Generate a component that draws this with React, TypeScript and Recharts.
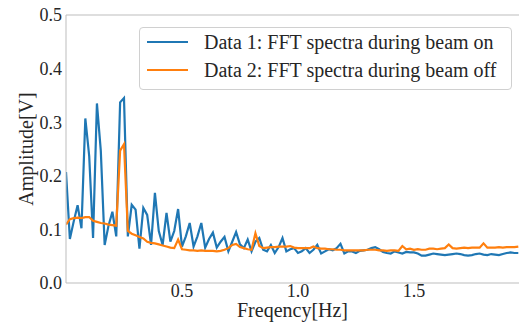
import { LineChart, Line, XAxis, YAxis, ReferenceLine, Legend } from "recharts";

const SERIF = '"Liberation Serif", "Times New Roman", Times, serif';
const ON_COLOR = "#1f77b4";
const OFF_COLOR = "#ff7f0e";
const SPINE = "#bdbdbd";
const INK = "#262626";

// FFT bin width of the spectra (Hz)
const FREQ_STEP = 1 / 60;

const BEAM_ON = [
  0.207, 0.082, 0.115, 0.145, 0.102, 0.307, 0.237, 0.084, 0.335, 0.247,
  0.071, 0.107, 0.133, 0.087, 0.337, 0.345, 0.087, 0.146, 0.137, 0.064,
  0.14, 0.127, 0.071, 0.168, 0.097, 0.071, 0.131, 0.077, 0.097, 0.138,
  0.068, 0.087, 0.112, 0.068, 0.087, 0.112, 0.066, 0.082, 0.094, 0.066,
  0.077, 0.086, 0.059, 0.077, 0.095, 0.072, 0.065, 0.081, 0.059, 0.077,
  0.084, 0.062, 0.059, 0.071, 0.056, 0.067, 0.084, 0.059, 0.063, 0.065,
  0.056, 0.059, 0.065, 0.056, 0.062, 0.071, 0.055, 0.059, 0.063, 0.061,
  0.065, 0.073, 0.055, 0.059, 0.059, 0.056, 0.06, 0.061, 0.062, 0.065,
  0.067, 0.063, 0.058, 0.056, 0.055, 0.059, 0.057, 0.055, 0.058, 0.057,
  0.057, 0.055, 0.051, 0.051, 0.053, 0.055, 0.054, 0.053, 0.052, 0.053,
  0.054, 0.055, 0.054, 0.052, 0.051, 0.052, 0.054, 0.055, 0.053, 0.052,
  0.054, 0.053, 0.052, 0.054, 0.056, 0.057, 0.056, 0.056,
];

const BEAM_OFF = [
  0.109, 0.119, 0.121, 0.122, 0.121, 0.123, 0.123, 0.116, 0.114, 0.112,
  0.111, 0.109, 0.108, 0.107, 0.247, 0.259, 0.097, 0.092, 0.089, 0.086,
  0.083, 0.077, 0.075, 0.074, 0.072, 0.07, 0.068, 0.066, 0.065, 0.081,
  0.063, 0.062, 0.061, 0.061, 0.06, 0.061, 0.06, 0.06, 0.06, 0.059,
  0.06, 0.062, 0.065, 0.071, 0.073, 0.067, 0.065, 0.063, 0.062, 0.093,
  0.069, 0.065, 0.066, 0.067, 0.067, 0.068, 0.068, 0.068, 0.069, 0.066,
  0.065, 0.065, 0.065, 0.065, 0.068, 0.065, 0.064, 0.064, 0.063, 0.063,
  0.062, 0.062, 0.061, 0.061, 0.061, 0.061, 0.061, 0.061, 0.062, 0.062,
  0.062, 0.061, 0.061, 0.06, 0.061, 0.061, 0.06, 0.069, 0.063, 0.064,
  0.062, 0.063, 0.062, 0.062, 0.064, 0.064, 0.063, 0.064, 0.065, 0.072,
  0.065, 0.064, 0.065, 0.066, 0.065, 0.066, 0.066, 0.066, 0.074, 0.066,
  0.066, 0.066, 0.067, 0.066, 0.067, 0.067, 0.067, 0.068,
];

const X_TICKS = [0.5, 1.0, 1.5];
const Y_TICKS = [0, 0.1, 0.2, 0.3, 0.4, 0.5];

const data = BEAM_ON.map((on, i) => ({
  freq: i * FREQ_STEP,
  on,
  off: BEAM_OFF[i],
}));

const TICK = { fontSize: 18, fontFamily: SERIF, fill: INK, style: { fontFamily: SERIF } };

function XTitle({ viewBox }: any) {
  return (
    <text
      x={viewBox.x + viewBox.width / 2}
      y={317}
      textAnchor="middle"
      fontSize={20}
      style={{ fontFamily: SERIF }}
      fill={INK}
    >
      Freqency[Hz]
    </text>
  );
}

function YTitle({ viewBox }: any) {
  const cy = viewBox.y + viewBox.height / 2;
  return (
    <text
      x={26}
      y={cy}
      transform={`rotate(-90 26 ${cy})`}
      textAnchor="middle"
      dominantBaseline="central"
      fontSize={20}
      style={{ fontFamily: SERIF }}
      fill={INK}
    >
      Amplitude[V]
    </text>
  );
}

function LegendBox({ payload }: any) {
  return (
    <div
      style={{
        width: 373,
        height: 63,
        boxSizing: "border-box",
        border: "1px solid #d0d0d0",
        borderRadius: 4,
        background: "rgba(255,255,255,0.8)",
        paddingLeft: 7,
        fontFamily: SERIF,
        fontSize: 20,
        color: INK,
      }}
    >
      {(payload || []).map((p: any) => (
        <div
          key={p.value}
          style={{ height: 28, display: "flex", alignItems: "center" }}
        >
          <span
            style={{
              display: "inline-block",
              width: 41,
              height: 2.4,
              background: p.color,
              marginRight: 16,
            }}
          />
          <span style={{ whiteSpace: "nowrap", fontFamily: SERIF }}>{p.value}</span>
        </div>
      ))}
    </div>
  );
}

export default function App() {
  return (
    <div
      style={{
        position: "absolute",
        left: 0,
        top: 0,
        width: 519,
        height: 325,
        overflow: "hidden",
        background: "#fff",
        fontFamily: SERIF,
      }}
    >
      <LineChart
        width={519}
        height={325}
        data={data}
        margin={{ top: 15, right: 0, bottom: 0, left: 0 }}
        style={{ fontFamily: SERIF }}
      >
        <XAxis
          type="number"
          dataKey="freq"
          domain={[0, 1.953]}
          allowDataOverflow
          ticks={X_TICKS}
          tickFormatter={(v: number) => v.toFixed(1)}
          tick={TICK}
          tickLine={false}
          tickSize={0}
          tickMargin={1}
          height={42}
          stroke={SPINE}
          label={<XTitle />}
        />
        <YAxis
          type="number"
          domain={[0, 0.5]}
          ticks={Y_TICKS}
          tickFormatter={(v: number) => v.toFixed(1)}
          tick={TICK}
          tickLine={false}
          tickSize={0}
          tickMargin={4}
          width={66}
          stroke={SPINE}
          label={<YTitle />}
        />
        <ReferenceLine y={0.5} stroke={SPINE} />
        <Legend
          layout="vertical"
          align="center"
          verticalAlign="middle"
          wrapperStyle={{ left: 139, top: 27, width: 373 }}
          content={<LegendBox />}
        />
        <Line
          type="linear"
          dataKey="on"
          name="Data 1: FFT spectra during beam on"
          stroke={ON_COLOR}
          strokeWidth={2.2}
          dot={false}
          isAnimationActive={false}
        />
        <Line
          type="linear"
          dataKey="off"
          name="Data 2: FFT spectra during beam off"
          stroke={OFF_COLOR}
          strokeWidth={2.2}
          dot={false}
          isAnimationActive={false}
        />
      </LineChart>
    </div>
  );
}
